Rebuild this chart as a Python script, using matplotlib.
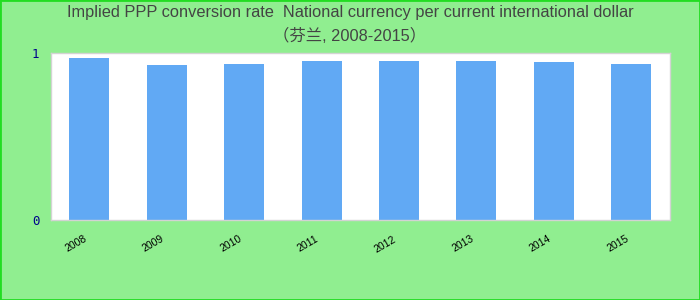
import matplotlib
matplotlib.use("Agg")
import matplotlib.pyplot as plt
from matplotlib.patches import Rectangle
from matplotlib.transforms import ScaledTranslation

years = ["2008", "2009", "2010", "2011", "2012", "2013", "2014", "2015"]
values = [0.972, 0.930, 0.936, 0.954, 0.954, 0.954, 0.948, 0.936]
title_line1 = "Implied PPP conversion rate  National currency per current international dollar"
title_line2 = "（芬兰, 2008-2015）"

fig = plt.figure(figsize=(7, 3), dpi=100, facecolor="#90EE90")
ax = fig.add_axes([50.5 / 700, 80 / 300, (670 - 50.5) / 700, (220 - 53.3) / 300])
ax.set_facecolor("white")

x = list(range(len(years)))
ax.bar(x, values, width=0.517, color="#61A9F4", zorder=2)
ax.set_xlim(-0.5, len(years) - 0.5)
ax.set_ylim(0, 1)
ax.set_yticks([0, 1])
ax.set_yticklabels(["0", "1"], family="DejaVu Sans Mono", fontsize=9, color="#00008B")
ax.set_xticks(x)
ax.set_xticklabels(years, rotation=30, ha="right", rotation_mode="anchor",
                   fontsize=7.5, color="black", family="Liberation Sans")
ax.tick_params(axis="both", length=0)
ax.tick_params(axis="x", pad=10)
ax.tick_params(axis="y", pad=8)
offset = ScaledTranslation(-6 / 100, 0, fig.dpi_scale_trans)
for lbl in ax.get_xticklabels():
    lbl.set_transform(lbl.get_transform() + offset)
for s in ax.spines.values():
    s.set_color("#D3D3D3")
    s.set_linewidth(1)

fig.text(0.5, 1 - 13 / 300, title_line1, ha="center", va="center", fontsize=11.8,
         color="#444444", family=["Liberation Sans", "Noto Sans CJK SC"])
fig.text(0.5, 1 - 36 / 300, title_line2, ha="center", va="center", fontsize=11.8,
         color="#444444", family=["Liberation Sans", "Noto Sans CJK SC"])

fig.patches.append(Rectangle((0, 0), 1, 1, transform=fig.transFigure, fill=False,
                             edgecolor="#22DD22", linewidth=2, zorder=10))

fig.savefig("out.png", dpi=100, facecolor=fig.get_facecolor())
